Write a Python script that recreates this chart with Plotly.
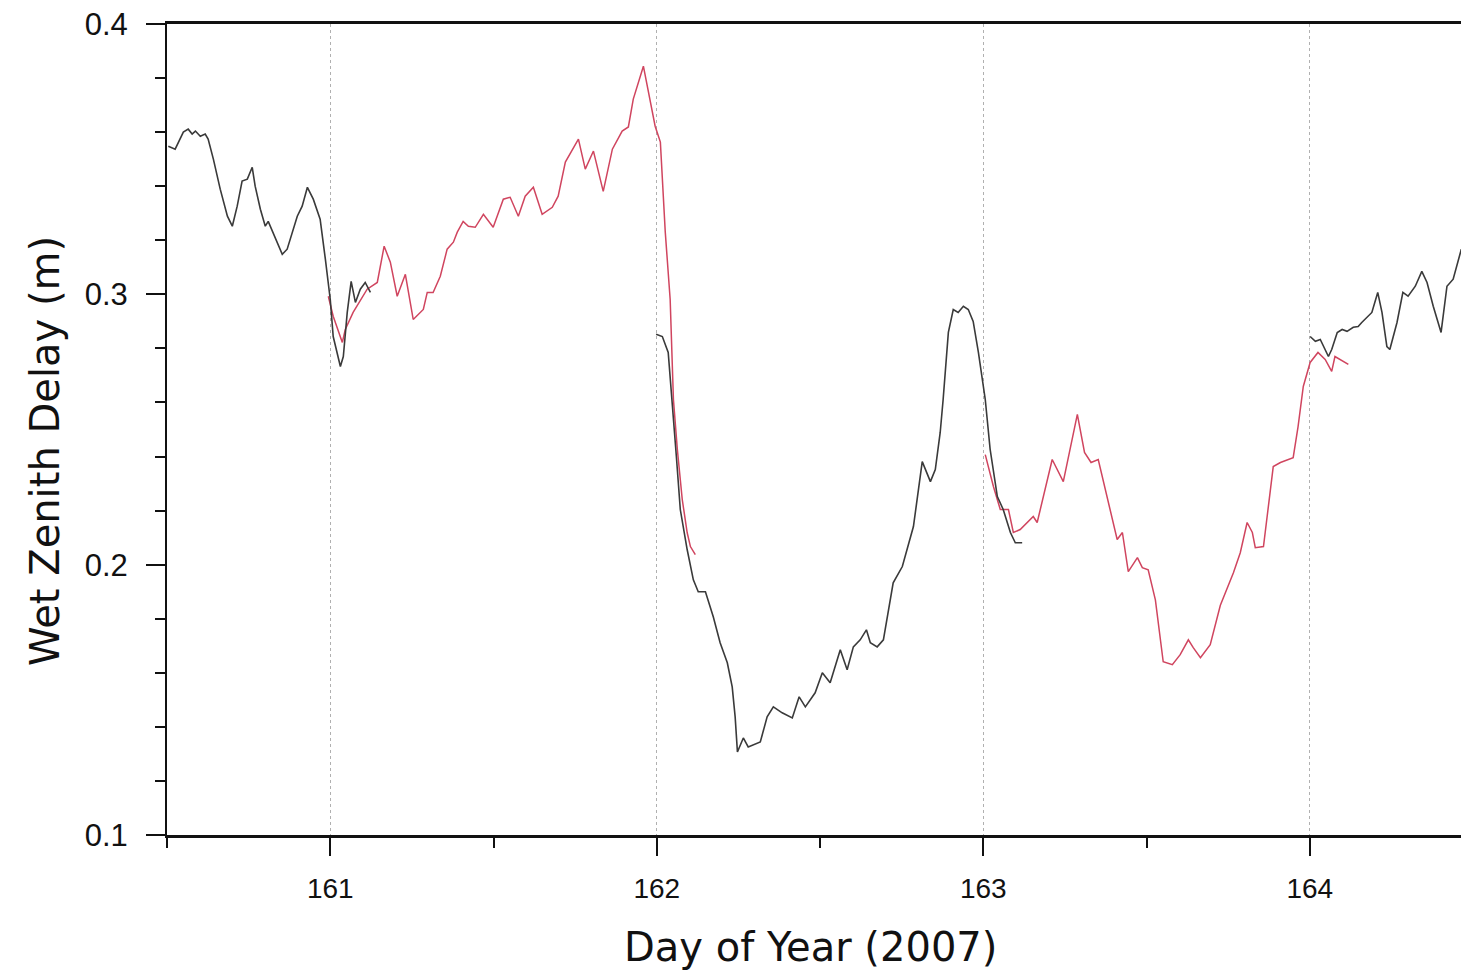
import plotly.graph_objects as go

# Black series segments (day of year, wet zenith delay in m)
black1_x = [160.504, 160.525, 160.550, 160.565, 160.577, 160.587, 160.602, 160.617, 160.626, 160.642,
            160.663, 160.685, 160.700, 160.715, 160.730, 160.746, 160.761, 160.770, 160.786, 160.801,
            160.810, 160.832, 160.853, 160.868, 160.899, 160.914, 160.930, 160.948, 160.969, 160.985,
            161.000, 161.009, 161.031, 161.040, 161.052, 161.064, 161.077, 161.092, 161.107, 161.123]
black1_y = [0.3548, 0.3537, 0.3600, 0.3611, 0.3593, 0.3604, 0.3585, 0.3593, 0.3574, 0.3500,
            0.3389, 0.3289, 0.3252, 0.3326, 0.3419, 0.3426, 0.3470, 0.3400, 0.3315, 0.3252,
            0.3270, 0.3211, 0.3148, 0.3167, 0.3289, 0.3326, 0.3396, 0.3352, 0.3278, 0.3130,
            0.2981, 0.2844, 0.2733, 0.2770, 0.2933, 0.3048, 0.2970, 0.3019, 0.3044, 0.3007]

black2_x = [161.998, 162.017, 162.035, 162.047, 162.060, 162.072, 162.093, 162.112, 162.127, 162.149,
            162.173, 162.194, 162.216, 162.231, 162.240, 162.247, 162.265, 162.280, 162.317, 162.338,
            162.357, 162.384, 162.415, 162.436, 162.455, 162.485, 162.507, 162.531, 162.562, 162.583,
            162.602, 162.623, 162.642, 162.654, 162.675, 162.694, 162.724, 162.752, 162.767, 162.786,
            162.813, 162.822, 162.838, 162.853, 162.868, 162.877, 162.893, 162.908, 162.923, 162.939,
            162.954, 162.969, 162.985, 163.006, 163.021, 163.043, 163.061, 163.083, 163.098, 163.119]
black2_y = [0.2852, 0.2844, 0.2785, 0.2611, 0.2400, 0.2204, 0.2056, 0.1944, 0.1900, 0.1900,
            0.1807, 0.1711, 0.1637, 0.1548, 0.1437, 0.1307, 0.1359, 0.1326, 0.1344, 0.1437,
            0.1474, 0.1452, 0.1433, 0.1511, 0.1474, 0.1526, 0.1600, 0.1563, 0.1685, 0.1611,
            0.1696, 0.1722, 0.1759, 0.1711, 0.1696, 0.1722, 0.1933, 0.1993, 0.2056, 0.2141,
            0.2381, 0.2352, 0.2307, 0.2352, 0.2489, 0.2611, 0.2859, 0.2944, 0.2933, 0.2956,
            0.2944, 0.2900, 0.2785, 0.2611, 0.2426, 0.2252, 0.2204, 0.2119, 0.2081, 0.2081]

black3_x = [164.001, 164.017, 164.032, 164.057, 164.067, 164.084, 164.099, 164.114, 164.133, 164.148,
            164.159, 164.175, 164.190, 164.208, 164.221, 164.236, 164.245, 164.267, 164.285, 164.301,
            164.323, 164.343, 164.359, 164.378, 164.402, 164.420, 164.439, 164.464]
black3_y = [0.2844, 0.2826, 0.2833, 0.2770, 0.2796, 0.2859, 0.2870, 0.2863, 0.2878, 0.2881,
            0.2896, 0.2915, 0.2933, 0.3007, 0.2933, 0.2807, 0.2796, 0.2896, 0.3007, 0.2993,
            0.3030, 0.3085, 0.3044, 0.2956, 0.2859, 0.3030, 0.3056, 0.3167]

# Red series segments
red1_x = [160.994, 161.009, 161.037, 161.046, 161.070, 161.113, 161.144, 161.165, 161.184, 161.205,
          161.230, 161.254, 161.285, 161.297, 161.315, 161.337, 161.358, 161.377, 161.389, 161.407,
          161.423, 161.444, 161.469, 161.499, 161.530, 161.551, 161.576, 161.597, 161.622, 161.649,
          161.680, 161.698, 161.720, 161.760, 161.781, 161.806, 161.836, 161.864, 161.894, 161.913,
          161.928, 161.959, 161.995, 162.011, 162.026, 162.041, 162.051, 162.063, 162.078, 162.093,
          162.103, 162.118]
red1_y = [0.2993, 0.2919, 0.2822, 0.2870, 0.2933, 0.3019, 0.3044, 0.3178, 0.3119, 0.2993,
          0.3074, 0.2907, 0.2944, 0.3007, 0.3007, 0.3067, 0.3167, 0.3193, 0.3230, 0.3270,
          0.3252, 0.3248, 0.3296, 0.3248, 0.3352, 0.3359, 0.3289, 0.3363, 0.3396, 0.3296,
          0.3322, 0.3363, 0.3489, 0.3574, 0.3463, 0.3530, 0.3381, 0.3537, 0.3604, 0.3619,
          0.3722, 0.3844, 0.3622, 0.3563, 0.3230, 0.2981, 0.2611, 0.2426, 0.2241, 0.2119,
          0.2067, 0.2037]

red2_x = [163.006, 163.031, 163.052, 163.077, 163.092, 163.113, 163.153, 163.165, 163.211, 163.245,
          163.288, 163.310, 163.330, 163.352, 163.410, 163.426, 163.444, 163.472, 163.487, 163.505,
          163.527, 163.551, 163.579, 163.603, 163.628, 163.643, 163.665, 163.695, 163.726, 163.766,
          163.787, 163.808, 163.824, 163.833, 163.858, 163.873, 163.888, 163.910, 163.931, 163.949,
          163.964, 163.980, 164.001, 164.025, 164.047, 164.067, 164.077, 164.093, 164.118]
red2_y = [0.2407, 0.2289, 0.2204, 0.2204, 0.2119, 0.2130, 0.2178, 0.2156, 0.2389, 0.2307,
          0.2556, 0.2415, 0.2378, 0.2389, 0.2093, 0.2119, 0.1974, 0.2026, 0.1989, 0.1981,
          0.1870, 0.1641, 0.1630, 0.1667, 0.1722, 0.1693, 0.1656, 0.1704, 0.1850, 0.1970,
          0.2044, 0.2156, 0.2119, 0.2063, 0.2067, 0.2215, 0.2363, 0.2378, 0.2389, 0.2396,
          0.2511, 0.2659, 0.2748, 0.2785, 0.2759, 0.2715, 0.2770, 0.2759, 0.2741]

x_range = [160.5, 164.463]
y_range = [0.1, 0.4]
x_ticks = [161, 162, 163, 164]
y_ticks = [0.1, 0.2, 0.3, 0.4]
y_tick_labels = ["0.1", "0.2", "0.3", "0.4"]

BLACK = "#3a3a3a"
RED = "#d0455f"

fig = go.Figure()
for xs, ys in [(red1_x, red1_y), (red2_x, red2_y)]:
    fig.add_trace(go.Scatter(x=xs, y=ys, mode="lines", line=dict(color=RED, width=1.5),
                             showlegend=False, hoverinfo="skip"))
for xs, ys in [(black1_x, black1_y), (black2_x, black2_y), (black3_x, black3_y)]:
    fig.add_trace(go.Scatter(x=xs, y=ys, mode="lines", line=dict(color=BLACK, width=1.6),
                             showlegend=False, hoverinfo="skip"))

xtick_font = dict(family="Liberation Sans Narrow, Liberation Sans, Arial", size=28, color="#111")
ytick_font = dict(family="Liberation Sans, Arial", size=31, color="#111")
title_font = dict(family="DejaVu Sans, sans-serif", size=40, color="#111")

fig.update_layout(
    width=1461, height=971,
    margin=dict(l=167, r=0, t=24, b=136),
    paper_bgcolor="white", plot_bgcolor="white",
    xaxis=dict(
        range=x_range, tickvals=x_ticks, ticktext=[str(v) for v in x_ticks],
        ticks="outside", ticklen=18, tickwidth=2, tickcolor="#111",
        showline=True, linecolor="#111", linewidth=3, mirror=True,
        showgrid=True, gridcolor="#b0b0b0", gridwidth=1, griddash="dot",
        zeroline=False, tickfont=xtick_font, ticklabelstandoff=8,
        minor=dict(dtick=0.5, tick0=0, ticks="outside", ticklen=10, tickwidth=2,
                   tickcolor="#111", showgrid=False),
    ),
    yaxis=dict(
        range=y_range, tickvals=y_ticks, ticktext=y_tick_labels,
        ticks="outside", ticklen=19, tickwidth=2, tickcolor="#111",
        showline=True, linecolor="#111", linewidth=2,
        showgrid=False, zeroline=False, tickfont=ytick_font, ticklabelstandoff=12,
        minor=dict(dtick=0.02, tick0=0, ticks="outside", ticklen=10, tickwidth=2,
                   tickcolor="#111", showgrid=False),
    ),
    annotations=[
        dict(text="Day of Year (2007)", xref="paper", yref="paper", x=0.497, y=-0.138,
             xanchor="center", yanchor="middle", showarrow=False, font=title_font),
        dict(text="Wet Zenith Delay (m)", xref="paper", yref="paper", x=-0.0943, y=0.4735,
             xanchor="center", yanchor="middle", textangle=-90, showarrow=False, font=title_font),
    ],
)

fig.write_html("out.html", config={"displayModeBar": False},
               post_script="document.body.style.margin='0';document.body.style.overflow='hidden';")
